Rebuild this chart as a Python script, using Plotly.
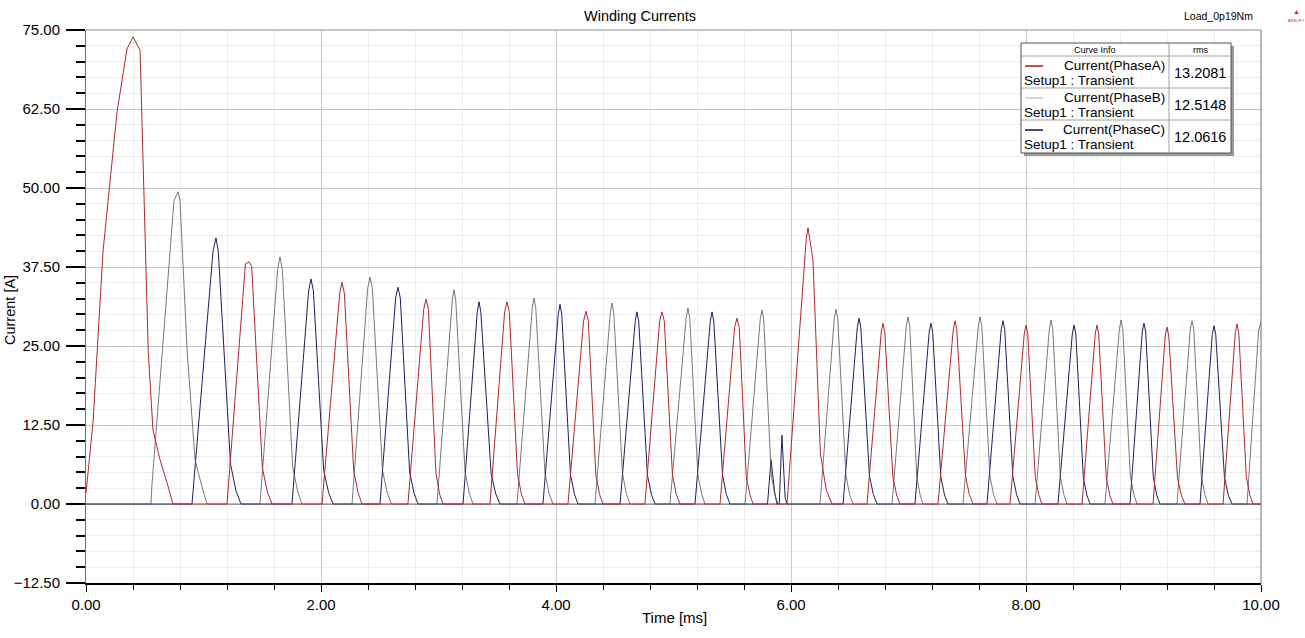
import plotly.graph_objects as go

# ---------------- data ----------------
phase_a_t = [0.000, 0.060, 0.145, 0.204, 0.264, 0.349, 0.400, 0.460, 0.485, 0.530, 0.570, 0.630, 0.700, 0.740,
             1.200, 1.357, 1.387, 1.410, 1.501, 1.544, 1.583,
             2.009, 2.159, 2.179, 2.199, 2.278, 2.315, 2.349,
             2.740, 2.874, 2.894, 2.914, 2.978, 3.009, 3.038,
             3.438, 3.563, 3.583, 3.603, 3.672, 3.705, 3.736,
             4.102, 4.235, 4.255, 4.275, 4.339, 4.371, 4.400,
             4.757, 4.882, 4.902, 4.922, 4.991, 5.024, 5.055,
             5.396, 5.520, 5.540, 5.560, 5.619, 5.650, 5.677,
             5.966, 6.130, 6.145, 6.187, 6.250, 6.300, 6.349,
             6.647, 6.768, 6.783, 6.798, 6.867, 6.899, 6.928,
             7.251, 7.381, 7.396, 7.411, 7.485, 7.518, 7.549,
             7.864, 7.985, 8.000, 8.015, 8.079, 8.109, 8.136,
             8.477, 8.589, 8.604, 8.619, 8.683, 8.713, 8.740,
             9.081, 9.185, 9.200, 9.215, 9.289, 9.322, 9.353,
             9.677, 9.781, 9.796, 9.811, 9.875, 9.905, 9.932,
             10.000]
phase_a_i = [1.7, 13.0, 40.0, 51.0, 62.0, 72.0, 73.9, 71.8, 55.0, 24.0, 11.7, 7.0, 2.7, 0.0,
             0.0, 38.0, 38.3, 37.6, 5.7, 1.9, 0.0,
             0.0, 33.3, 35.1, 33.3, 5.3, 1.8, 0.0,
             0.0, 30.8, 32.4, 30.8, 4.9, 1.6, 0.0,
             0.0, 30.4, 32.0, 30.4, 4.8, 1.6, 0.0,
             0.0, 29.0, 30.5, 29.0, 4.6, 1.5, 0.0,
             0.0, 28.9, 30.4, 28.9, 4.6, 1.5, 0.0,
             0.0, 27.9, 29.4, 27.9, 4.4, 1.5, 0.0,
             0.0, 42.0, 43.7, 38.6, 8.0, 2.2, 0.0,
             0.0, 27.2, 28.6, 27.2, 4.3, 1.4, 0.0,
             0.0, 27.6, 29.0, 27.6, 4.4, 1.5, 0.0,
             0.0, 26.9, 28.3, 26.9, 4.2, 1.4, 0.0,
             0.0, 26.9, 28.3, 26.9, 4.2, 1.4, 0.0,
             0.0, 26.6, 28.0, 26.6, 4.2, 1.4, 0.0,
             0.0, 27.1, 28.5, 27.1, 4.3, 1.4, 0.0,
             0.0]

phase_b_t = [0.000,
             0.553, 0.560, 0.749, 0.783, 0.800, 0.860, 0.928, 0.987, 1.030,
             1.481, 1.631, 1.651, 1.671, 1.759, 1.801, 1.838,
             2.264, 2.397, 2.417, 2.437, 2.523, 2.563, 2.600,
             2.987, 3.117, 3.132, 3.147, 3.226, 3.262, 3.294,
             3.668, 3.798, 3.813, 3.828, 3.906, 3.942, 3.974,
             4.332, 4.462, 4.477, 4.492, 4.566, 4.599, 4.630,
             4.970, 5.108, 5.123, 5.138, 5.207, 5.239, 5.268,
             5.609, 5.738, 5.753, 5.768, 5.832, 5.862, 5.889,
             6.247, 6.368, 6.383, 6.398, 6.467, 6.499, 6.528,
             6.860, 6.981, 6.996, 7.011, 7.070, 7.098, 7.123,
             7.464, 7.594, 7.609, 7.624, 7.693, 7.724, 7.753,
             8.077, 8.198, 8.213, 8.228, 8.292, 8.322, 8.349,
             8.672, 8.794, 8.809, 8.824, 8.888, 8.918, 8.945,
             9.285, 9.398, 9.413, 9.428, 9.492, 9.522, 9.549,
             9.881, 9.980, 10.000]
phase_b_i = [0.0,
             0.0, 2.7, 48.0, 49.4, 48.0, 24.4, 7.0, 2.7, 0.0,
             0.0, 37.1, 39.1, 37.1, 5.9, 2.0, 0.0,
             0.0, 34.1, 35.9, 34.1, 5.4, 1.8, 0.0,
             0.0, 32.2, 33.9, 32.2, 5.1, 1.7, 0.0,
             0.0, 31.0, 32.6, 31.0, 4.9, 1.6, 0.0,
             0.0, 30.2, 31.8, 30.2, 4.8, 1.6, 0.0,
             0.0, 29.5, 31.0, 29.5, 4.7, 1.6, 0.0,
             0.0, 29.2, 30.7, 29.2, 4.6, 1.5, 0.0,
             0.0, 29.3, 30.8, 29.3, 4.6, 1.5, 0.0,
             0.0, 28.1, 29.6, 28.1, 4.4, 1.5, 0.0,
             0.0, 28.1, 29.6, 28.1, 4.4, 1.5, 0.0,
             0.0, 27.6, 29.1, 27.6, 4.4, 1.5, 0.0,
             0.0, 27.6, 29.1, 27.6, 4.4, 1.5, 0.0,
             0.0, 27.6, 29.0, 27.6, 4.4, 1.5, 0.0,
             0.0, 27.5, 28.8]

phase_c_t = [0.000,
             0.902, 1.081, 1.106, 1.126, 1.230, 1.276, 1.319,
             1.753, 1.895, 1.915, 1.935, 2.023, 2.065, 2.102,
             2.502, 2.635, 2.655, 2.675, 2.754, 2.792, 2.826,
             3.209, 3.330, 3.345, 3.360, 3.448, 3.487, 3.523,
             3.889, 4.019, 4.034, 4.049, 4.123, 4.156, 4.187,
             4.545, 4.674, 4.689, 4.704, 4.778, 4.812, 4.843,
             5.183, 5.313, 5.328, 5.343, 5.417, 5.450, 5.481,
             5.800, 5.830, 5.860, 5.880, 5.900, 5.923, 5.950, 5.966,
             6.443, 6.564, 6.579, 6.594, 6.668, 6.701, 6.732,
             7.055, 7.176, 7.191, 7.206, 7.275, 7.307, 7.336,
             7.668, 7.789, 7.804, 7.819, 7.888, 7.920, 7.949,
             8.272, 8.394, 8.409, 8.424, 8.488, 8.518, 8.545,
             8.885, 8.989, 9.004, 9.019, 9.083, 9.113, 9.140,
             9.481, 9.585, 9.600, 9.615, 9.689, 9.722, 9.753,
             10.000]
phase_c_i = [0.0,
             0.0, 40.0, 42.1, 40.0, 6.3, 2.1, 0.0,
             0.0, 33.8, 35.6, 33.8, 5.3, 1.8, 0.0,
             0.0, 32.6, 34.3, 32.6, 5.1, 1.7, 0.0,
             0.0, 30.4, 32.0, 30.4, 4.8, 1.6, 0.0,
             0.0, 30.0, 31.6, 30.0, 4.7, 1.6, 0.0,
             0.0, 28.9, 30.4, 28.9, 4.6, 1.5, 0.0,
             0.0, 28.9, 30.4, 28.9, 4.6, 1.5, 0.0,
             0.0, 7.0, 2.0, 0.0, 0.0, 10.9, 1.0, 0.0,
             0.0, 27.9, 29.4, 27.9, 4.4, 1.5, 0.0,
             0.0, 27.2, 28.6, 27.2, 4.3, 1.4, 0.0,
             0.0, 27.6, 29.0, 27.6, 4.4, 1.5, 0.0,
             0.0, 26.9, 28.3, 26.9, 4.2, 1.4, 0.0,
             0.0, 27.2, 28.6, 27.2, 4.3, 1.4, 0.0,
             0.0, 26.8, 28.2, 26.8, 4.2, 1.4, 0.0,
             0.0]

curve_names = ["Current(PhaseA)", "Current(PhaseB)", "Current(PhaseC)"]
rms_values = ["13.2081", "12.5148", "12.0616"]
y_tick_vals = [-12.5, 0.0, 12.5, 25.0, 37.5, 50.0, 62.5, 75.0]
x_tick_vals = [0, 2, 4, 6, 8, 10]

# ---------------- styling ----------------
COL_A = "#B3262B"
COL_B = "#555555"
COL_C = "#1E1E5E"
FONT = "Arial, Liberation Sans, sans-serif"

W_PX, H_PX = 1305, 638
L, R, T, B = 86, 1261, 30, 583


def px(x):
    return (x - L) / (R - L)


def py(y):
    return (B - y) / (B - T)


fig = go.Figure()
fig.add_trace(go.Scatter(x=phase_c_t, y=phase_c_i, mode="lines", line=dict(color=COL_C, width=1), name=curve_names[2]))
fig.add_trace(go.Scatter(x=phase_b_t, y=phase_b_i, mode="lines", line=dict(color=COL_B, width=0.8), name=curve_names[1]))
fig.add_trace(go.Scatter(x=phase_a_t, y=phase_a_i, mode="lines", line=dict(color=COL_A, width=1), name=curve_names[0]))

fig.update_layout(
    width=W_PX, height=H_PX,
    margin=dict(l=L, r=W_PX - R, t=T, b=H_PX - B, pad=0),
    paper_bgcolor="white", plot_bgcolor="white",
    showlegend=False,
    font=dict(family=FONT, color="black"),
)

fig.update_xaxes(
    range=[0, 10], tickvals=x_tick_vals, tickformat=".2f",
    showgrid=True, gridcolor="#C8C8C8", gridwidth=1,
    zeroline=False,
    showline=True, linecolor="black", linewidth=2,
    ticks="outside", ticklen=7, tickcolor="black", tickwidth=1,
    tickfont=dict(size=15, family=FONT, color="black"),
    minor=dict(dtick=0.4, tick0=0, showgrid=True, gridcolor="#EDEDED", gridwidth=1,
               ticks="outside", ticklen=5, tickcolor="black"),
)
fig.update_yaxes(
    range=[-12.5, 75], tickvals=y_tick_vals, tickformat=".2f",
    showgrid=True, gridcolor="#C4C4C4", gridwidth=1,
    zeroline=False,
    showline=True, linecolor="#6E6E6E", linewidth=1,
    ticks="outside", ticklen=19, tickcolor="black", tickwidth=2,
    ticklabelstandoff=3,
    tickfont=dict(size=15, family=FONT, color="black"),
    minor=dict(dtick=2.5, tick0=0, showgrid=True, gridcolor="#EDEDED", gridwidth=1,
               ticks="outside", ticklen=9, tickcolor="black", tickwidth=2),
)

shapes = []
# top and right plot borders
shapes.append(dict(type="line", xref="paper", yref="paper", x0=0, x1=1, y0=1, y1=1,
                   line=dict(color="#8C8C8C", width=1)))
shapes.append(dict(type="line", xref="paper", yref="paper", x0=1, x1=1, y0=0, y1=1,
                   line=dict(color="#6E6E6E", width=1)))

# legend table
bx0, bx1, by0, by1 = 1021, 1231, 43, 153
div_x = 1169
shapes.append(dict(type="rect", xref="paper", yref="paper",
                   x0=px(bx0 + 3), x1=px(bx1 + 3), y0=py(by0 + 3), y1=py(by1 + 3),
                   fillcolor="#9A9A9A", line=dict(width=0)))
shapes.append(dict(type="rect", xref="paper", yref="paper",
                   x0=px(bx0), x1=px(bx1), y0=py(by0), y1=py(by1),
                   fillcolor="white", line=dict(color="#505050", width=1)))
shapes.append(dict(type="line", xref="paper", yref="paper",
                   x0=px(div_x), x1=px(div_x), y0=py(by0), y1=py(by1),
                   line=dict(color="#A0A0A0", width=1)))
row_tops = [56, 88, 120]
for yy in row_tops:
    shapes.append(dict(type="line", xref="paper", yref="paper",
                       x0=px(bx0), x1=px(bx1), y0=py(yy), y1=py(yy),
                       line=dict(color="#A0A0A0", width=1)))

annotations = []


def txt(x, y, s, size, xanchor="center", color="black", textangle=0):
    annotations.append(dict(xref="paper", yref="paper", x=px(x), y=py(y), text=s,
                            showarrow=False, xanchor=xanchor, yanchor="middle",
                            textangle=textangle, borderpad=0,
                            font=dict(family=FONT, size=size, color=color)))


txt(1095, 49.5, "Curve Info", 9)
txt(1200, 49.5, "rms", 9)
for k, (col, name, val) in enumerate(zip([COL_A, COL_B, COL_C], curve_names, rms_values)):
    top = row_tops[k]
    lw = 0.8 if k == 1 else 1.6
    lc = "#9A9A9A" if k == 1 else col
    shapes.append(dict(type="line", xref="paper", yref="paper",
                       x0=px(1025), x1=px(1043), y0=py(top + 10), y1=py(top + 10),
                       line=dict(color=lc, width=lw)))
    txt(1166, top + 9, name, 13.5, xanchor="right")
    txt(1023, top + 24.5, "Setup1 : Transient", 13.5, xanchor="left")
    txt(1200, top + 17, val, 14.5)

# titles and labels
txt(640, 16, "Winding Currents", 14.5)
txt(1218, 16, "Load_0p19Nm", 10.5)
txt(1296, 12, "▲", 7, color="#C03030")
txt(1296, 20, "ANSOFT", 4, color="#C03030")
txt(674, 617, "Time [ms]", 15)
txt(10, 310, "Current [A]", 14.5, textangle=-90)

fig.update_layout(shapes=shapes, annotations=annotations)

fig.write_html("out.html")
